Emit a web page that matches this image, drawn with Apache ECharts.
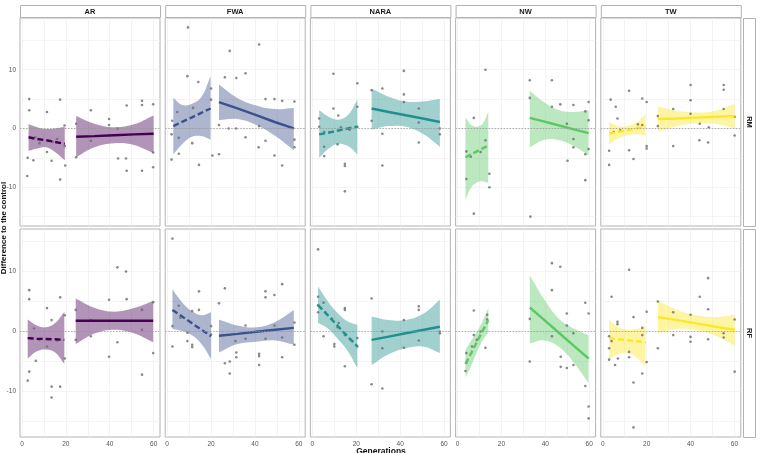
<!DOCTYPE html>
<html>
<head>
<meta charset="utf-8">
<script src="https://cdn.jsdelivr.net/npm/echarts@6/dist/echarts.min.js"></script>
<style>
  html, body { margin: 0; padding: 0; background: #fff; }
  #chart { width: 762px; height: 453px; }
</style>
</head>
<body>
<div id="chart"></div>
<script>
// facets and rows
const facets = ["AR", "FWA", "NARA", "NW", "TW"];
const rowNames = ["RM", "RF"];
const xTicks = [0, 20, 40, 60];
const yTicks = [-10, 0, 10];

// points: [generation, difference]
// bands: [generation, fit, lower, upper]
const AR_RM_pts = [[3.3,5.0],[3.3,3.1],[2.6,-5.0],[2.4,-8.1],[5.2,-5.4],[6,-1.5],[8,-2.5],[11.4,2.8],[11.4,-4.0],[13.5,-5.5],[14,-2.3],[16,-1.8],[17.4,4.9],[17.4,-8.7],[19.4,0.5],[19.5,-3.0],[19.7,-6.3],[24.7,0.8],[24.7,-4.9],[31.4,3.1],[31.4,-2.1],[39.7,1.6],[39.7,0.6],[43.5,0],[43.8,-5.1],[47.4,-5.1],[47.7,3.9],[47.7,-7.2],[54.7,4.7],[54.7,4.0],[54.7,-7.2],[59.8,4.1],[59.8,-4.1],[59.8,-6.6]];
const AR_RM_pre = [[3,-1.5,-3.8,0.7],[7,-1.8,-3.4,0.2],[11,-2.0,-3.2,-0.1],[15,-2.3,-4.0,0.0],[19.5,-2.6,-5.4,0.3]];
const AR_RM_post = [[24.7,-1.4,-4.9,2.1],[33,-1.3,-3.2,0.8],[42,-1.15,-2.5,0.2],[51,-1.0,-2.8,0.7],[60,-0.9,-4.2,2.2]];

const FWA_RM_pts = [[9.5,17.2],[9.2,8.9],[14.2,7.9],[11.8,3.5],[4.6,2.8],[2.3,1.3],[2.0,-1.0],[5.3,-1.6],[2.0,-5.3],[5.3,-4.3],[11.4,-2.5],[14.5,-6.2],[20,6.8],[20,4.9],[20.6,-4.6],[23.6,-4.4],[23.6,0.6],[26.3,8.7],[28.5,13.2],[28,0],[31.4,0],[31.5,8.6],[35.7,9.4],[35.7,-1.5],[41.9,14.3],[41.9,0.4],[41.7,-3.2],[44.8,5.0],[44.8,-2.1],[48.9,5.0],[48.9,-4.6],[52.4,4.7],[52.4,-6.3],[58,4.6],[58,-1.9],[58,-3.2]];
const FWA_RM_pre = [[2.8,0.4,-4.4,5.2],[7,1.15,-2.6,4.0],[11.3,1.9,-1.4,4.2],[15.5,2.65,-1.3,5.3],[19.8,3.4,-1.9,8.9]];
const FWA_RM_post = [[23.6,4.5,1.4,7.5],[32,3.4,1.6,5.2],[40.6,2.25,0.6,3.9],[49,1.1,-1.2,3.3],[57.7,0,-3.7,3.5]];

const NARA_RM_pts = [[9.6,9.3],[9.6,3.4],[3.1,1.7],[3.1,0.3],[5.4,-0.6],[5.4,-3.1],[5.4,-4.7],[8,-0.6],[11.5,-2.7],[11.8,2.2],[13,0.2],[14.8,-6.0],[14.8,-6.4],[14.8,-10.7],[17,-0.2],[20.5,7.7],[20.5,3.7],[20.5,0.3],[27,6.5],[27,1.3],[31.9,6.8],[31.9,-0.9],[31.9,-6.3],[41.7,9.8],[41.7,5.8],[41.7,4.5],[48.5,3.4],[48.5,1.0],[48.5,-2.4],[58.1,0],[58.1,-1.0]];
const NARA_RM_pre = [[3.1,-1.0,-5.0,3.1],[7.5,-0.7,-3.4,2.0],[11.8,-0.35,-2.6,1.5],[16.2,0,-3.0,2.3],[20.5,0.3,-4.4,4.9]];
const NARA_RM_post = [[27,3.4,-0.2,6.8],[34.8,2.8,0.4,5.4],[42.5,2.25,0.3,4.6],[50.3,1.7,-0.9,4.6],[58.1,1.1,-3.1,5.0]];

const NW_RM_pts = [[12.7,10.0],[7.4,1.8],[4.0,-3.9],[4.0,-8.6],[7.4,-14.5],[12.7,-2.0],[14.5,-7.7],[14.5,-10.0],[6,-4.8],[10.5,-4.0],[32.9,8.2],[32.9,5.2],[33.2,-15.0],[43,8.2],[43,3.7],[46.8,4.1],[49.8,0.8],[50.1,-5.5],[52.8,4.0],[52.8,-1.8],[52.8,-3.2],[58.2,2.9],[58.2,-4.4],[58.2,-8.8],[59.7,4.5],[59.7,1.4],[59.7,-3.5]];
const NW_RM_pre = [[3.6,-4.9,-12.2,1.9],[6.2,-4.4,-10.0,0.6],[8.8,-3.9,-9.2,0.3],[11.4,-3.4,-9.0,0.8],[14,-2.9,-9.3,2.8]];
const NW_RM_post = [[32.9,1.8,-3.2,6.4],[39.6,1.15,-1.9,4.4],[46.3,0.5,-2.0,3.1],[53,-0.15,-3.0,2.8],[59.7,-0.8,-4.6,3.1]];

const TW_RM_pts = [[3.6,4.9],[5.9,3.7],[6.7,1.7],[2.9,-3.8],[2.9,-6.2],[12,6.4],[12,-3.7],[14,-5.2],[18,5.1],[20,4.5],[20,-3.0],[20,-3.4],[18,0.6],[16,0.7],[5,-0.6],[8,-0.3],[25.1,2.1],[25.1,0.4],[32.1,3.3],[32.1,-3.0],[40,7.4],[40,4.8],[40,2.5],[44.2,0.8],[44,-2.0],[48,-2.4],[48.3,0.2],[55.1,7.4],[55.1,6.6],[55.1,3.3],[60.1,2.0],[60.1,-1.2]];
const TW_RM_pre = [[2.9,-0.9,-2.7,1.1],[7,-0.6,-1.7,0.4],[11.2,-0.3,-1.2,0.4],[15.3,0,-1.0,1.0],[19.5,0.3,-1.2,2.5]];
const TW_RM_post = [[25.1,1.6,-0.6,3.8],[33.9,1.7,0.4,3.0],[42.6,1.85,0.9,2.7],[51.4,2.0,0.8,3.0],[60.1,2.1,0.0,4.2]];

const AR_RF_pts = [[2.6,-8.3],[3.3,6.8],[3.3,5.3],[3.3,-6.8],[4,-1.2],[5.5,0.4],[6.3,-5.0],[8,-1.5],[11.4,3.8],[11.4,-2.6],[12,-1.4],[13.5,1.8],[13.5,-9.3],[13.5,-11.1],[16,-1.6],[17.4,5.6],[17.4,-9.3],[19.5,2.6],[19.5,-4.6],[24.5,3.5],[24.5,-1.5],[31.4,1.8],[31.4,-0.9],[39.7,5.2],[39.7,-4.3],[43.5,10.6],[43.5,-1.9],[47.4,9.9],[47.7,5.3],[54.7,3.5],[54.7,0.2],[54.7,-7.3],[59.8,4.8],[59.8,-3.7]];
const AR_RF_pre = [[2.6,-1.2,-4.6,1.9],[6.8,-1.3,-3.4,0.9],[11,-1.35,-3.1,0.6],[15.1,-1.4,-3.6,1.3],[19.3,-1.5,-5.5,3.2]];
const AR_RF_post = [[24.5,1.7,-2.2,5.4],[33.3,1.7,-0.4,3.8],[42.2,1.7,0.2,3.2],[51,1.7,-0.4,3.8],[59.8,1.7,-1.9,5.0]];

const FWA_RF_pts = [[2.4,15.4],[2.4,-2.6],[2.4,0.8],[5.3,4.2],[6,2.2],[9.2,-0.3],[9.2,-1.7],[11.4,3.3],[11.4,-2.3],[11.4,-2.7],[14.5,6.6],[14.5,3.5],[20,0.8],[20,-0.6],[23.6,4.6],[26.3,7.1],[26.3,-5.4],[28.5,-5.1],[28.5,-7.1],[31.1,-1.7],[31.5,-3.6],[31.5,-4.4],[35.7,0.9],[35.7,-1.3],[41.9,-3.8],[41.9,-4.2],[41.9,-5.7],[44.8,6.6],[44.8,5.6],[44.8,-1.3],[48.9,6.0],[48.9,0.9],[52.4,7.8],[52.4,-4.4],[52.4,-1.1],[58,1.4],[58,-2.3]];
const FWA_RF_pre = [[2.4,3.5,0.3,6.9],[6.8,2.4,0.0,4.8],[11.2,1.3,-0.7,3.3],[15.6,0.2,-2.2,2.6],[20,-0.9,-4.7,3.1]];
const FWA_RF_post = [[23.6,-0.8,-3.6,1.9],[32.1,-0.5,-2.2,0.9],[40.6,-0.15,-1.8,0.6],[49.2,0.2,-1.6,1.5],[57.7,0.5,-2.3,3.5]];

const NARA_RF_pts = [[2.6,13.6],[2.6,5.7],[2.6,4.3],[2.6,3.1],[5.1,4.7],[5.1,-0.9],[5.9,3.1],[8.9,2.0],[10,-2.2],[10,-2.6],[11.5,0.6],[12,1.3],[14.8,3.8],[14.8,3.5],[14.8,-0.7],[14.8,-5.9],[17.2,-1.4],[20.5,-1.2],[20.5,-2.6],[27,5.4],[27,-8.9],[31.9,-9.6],[31.9,-2.9],[31.9,-0.1],[41.7,1.8],[41.7,-2.8],[48.5,4.1],[48.5,3.5],[48.5,-1.6],[58.1,-0.1],[58.1,-0.4]];
const NARA_RF_pre = [[2.6,4.3,1.3,7.4],[7.1,2.6,0.4,4.9],[11.5,0.85,-1.3,3.0],[16,-0.9,-3.3,1.6],[20.5,-2.6,-6.2,1.0]];
const NARA_RF_post = [[27,-1.5,-5.7,2.4],[34.8,-0.95,-3.9,1.8],[42.5,-0.4,-2.9,1.8],[50.3,0.15,-2.6,2.8],[58.1,0.7,-3.7,5.2]];

const NW_RF_pts = [[7.4,3.4],[7.4,-0.7],[4.0,-3.7],[4.0,-5.3],[3.6,-6.7],[6.6,-2.6],[8.8,-1.5],[10.5,-0.1],[12.7,-2.8],[13.5,2.7],[13.5,1.9],[32.9,2.0],[32.9,-5.1],[43,11.3],[46.8,10.7],[43,6.8],[43,-0.9],[49.8,2.9],[49.8,0.9],[47,-4.3],[47,-6.0],[49.8,-6.2],[52.8,-5.7],[52.8,-0.4],[58.2,4.7],[58.2,-9.2],[59.7,-12.6],[59.7,-14.6],[59.7,2.9]];
const NW_RF_pre = [[3.6,-5.5,-7.8,-3.2],[6.2,-3.7,-5.8,-1.6],[8.8,-1.85,-3.5,-0.2],[11.4,0,-1.6,1.6],[14,1.8,-0.3,3.8]];
const NW_RF_post = [[32.9,3.9,-2.1,9.3],[39.6,1.8,-1.6,5.2],[46.3,-0.35,-2.7,2.0],[53,-2.5,-5.3,0.4],[59.7,-4.6,-8.7,-0.7]];

const TW_RF_pts = [[12,10.2],[4.0,5.7],[6.7,1.5],[6.7,1.1],[2.9,-0.9],[2.9,-2.9],[4,-1.7],[2.9,-4.8],[5.6,-5.7],[6.9,-4.6],[12,-3.5],[12,-4.4],[14,2.3],[14,-8.6],[14,-16.1],[18,0.5],[18,-0.7],[18,-7.1],[20,3.2],[20,-5.2],[25.1,4.9],[25.1,-2.9],[32.1,3.1],[32.1,-0.7],[40,2.7],[40,-1.0],[40,-1.8],[44.2,5.7],[48,8.8],[48,3.6],[48,-1.4],[55.1,-0.4],[55.1,-1.1],[60.1,1.9],[60.1,-6.8]];
const TW_RF_pre = [[2.9,-1.2,-4.7,1.9],[7,-1.4,-3.9,0.6],[11.2,-1.55,-3.7,0.2],[15.3,-1.7,-4.4,0.3],[19.5,-1.9,-5.9,0.8]];
const TW_RF_post = [[25.1,2.3,-0.4,5.1],[33.9,1.8,0.3,3.5],[42.6,1.25,0.1,2.6],[51.4,0.7,-0.8,2.3],[60.1,0.2,-2.5,2.7]];

const colors = ["#440154", "#3B528B", "#21908C", "#5DC863", "#FDE725"];

// panels in row order, then column order
const panels = [
  [AR_RM_pts, AR_RM_pre, AR_RM_post], [FWA_RM_pts, FWA_RM_pre, FWA_RM_post],
  [NARA_RM_pts, NARA_RM_pre, NARA_RM_post], [NW_RM_pts, NW_RM_pre, NW_RM_post],
  [TW_RM_pts, TW_RM_pre, TW_RM_post],
  [AR_RF_pts, AR_RF_pre, AR_RF_post], [FWA_RF_pts, FWA_RF_pre, FWA_RF_post],
  [NARA_RF_pts, NARA_RF_pre, NARA_RF_post], [NW_RF_pts, NW_RF_pre, NW_RF_post],
  [TW_RF_pts, TW_RF_pre, TW_RF_post]
];

// layout
const colLeft = [20, 165.2, 310.4, 455.6, 600.8];
const panelW = 140;
const rowTop = [18, 229];
const panelH = 208;
const yRange = [[-16.6, 18.8], [-17.7, 17.0]];

const grids = [], xAxes = [], yAxes = [], series = [], graphics = [];

function bandSeries(rows, gi, color) {
  return {
    type: "custom",
    xAxisIndex: gi, yAxisIndex: gi,
    silent: true, clip: true, z: 2,
    data: rows.map(r => [r[0], r[2], r[3]]),
    encode: { x: 0, y: [1, 2] },
    renderItem: function (params, api) {
      if (params.dataIndex !== 0) return;
      const up = [], dn = [];
      rows.forEach(r => {
        up.push(api.coord([r[0], r[3]]));
        dn.unshift(api.coord([r[0], r[2]]));
      });
      // doubled end points keep the ends square while the edges are smoothed
      const pts = [up[0]].concat(up, [up[up.length - 1], dn[0]], dn, [dn[dn.length - 1]]);
      return {
        type: "polygon",
        shape: { points: pts, smooth: 0.4 },
        style: { fill: color, opacity: 0.42 }
      };
    }
  };
}

function fitSeries(rows, gi, color, dashed) {
  return {
    type: "line",
    xAxisIndex: gi, yAxisIndex: gi,
    silent: true, z: 4,
    symbol: "none",
    data: rows.map(r => [r[0], r[1]]),
    lineStyle: { color: color, width: 2.4, type: dashed ? [6, 3] : "solid" }
  };
}

for (let r = 0; r < 2; r++) {
  for (let c = 0; c < 5; c++) {
    const gi = r * 5 + c;
    const [pts, pre, post] = panels[gi];
    grids.push({
      left: colLeft[c], top: rowTop[r], width: panelW, height: panelH,
      show: true, borderColor: "#b3b3b3", borderWidth: 1
    });
    xAxes.push({
      type: "value", gridIndex: gi, min: -0.9, max: 62.9,
      axisLine: { show: false },
      axisTick: { show: false, customValues: [0, 10, 20, 30, 40, 50, 60] },
      splitLine: { show: true, lineStyle: { color: "#ececec", width: 0.6 } },
      axisLabel: { show: r === 1, customValues: xTicks, fontSize: 6.5, color: "#555", margin: 4 }
    });
    yAxes.push({
      type: "value", gridIndex: gi, min: yRange[r][0], max: yRange[r][1],
      axisLine: { show: false },
      axisTick: { show: false, customValues: [-15, -10, -5, 0, 5, 10, 15] },
      splitLine: { show: true, lineStyle: { color: "#ececec", width: 0.6 } },
      axisLabel: { show: c === 0, customValues: yTicks, fontSize: 6.5, color: "#555", margin: 4 }
    });

    series.push(bandSeries(pre, gi, colors[c]));
    series.push(bandSeries(post, gi, colors[c]));
    series.push({
      type: "scatter",
      xAxisIndex: gi, yAxisIndex: gi,
      silent: true, z: 3,
      symbolSize: 2.6,
      itemStyle: { color: "#6b6b6b", opacity: 0.8 },
      data: pts,
      markLine: {
        silent: true, symbol: "none", label: { show: false },
        lineStyle: { color: "#9a9a9a", type: [1.5, 1.5], width: 0.8 },
        data: [{ yAxis: 0 }]
      }
    });
    series.push(fitSeries(pre, gi, colors[c], true));
    series.push(fitSeries(post, gi, colors[c], false));
  }
}

// facet strips on top
facets.forEach((name, c) => {
  graphics.push({
    type: "rect", left: colLeft[c], top: 5,
    shape: { width: panelW, height: 12 },
    style: { fill: "#fff", stroke: "#b3b3b3", lineWidth: 1 }
  });
  graphics.push({
    type: "text", x: colLeft[c] + panelW / 2, y: 11.5,
    style: { text: name, align: "center", verticalAlign: "middle",
      font: "bold 7.5px 'Liberation Sans', Arial, sans-serif", fill: "#1a1a1a" }
  });
});

// row strips on the right
rowNames.forEach((name, r) => {
  graphics.push({
    type: "rect", left: 743, top: rowTop[r],
    shape: { width: 12, height: panelH },
    style: { fill: "#fff", stroke: "#b3b3b3", lineWidth: 1 }
  });
  graphics.push({
    type: "text", x: 749, y: rowTop[r] + panelH / 2, rotation: -Math.PI / 2,
    style: { text: name, align: "center", verticalAlign: "middle",
      font: "bold 7.5px 'Liberation Sans', Arial, sans-serif", fill: "#1a1a1a" }
  });
});

// axis titles
graphics.push({
  type: "text", x: 4, y: 228, rotation: Math.PI / 2,
  style: { text: "Difference to the control", align: "center", verticalAlign: "middle",
    font: "bold 8px 'Liberation Sans', Arial, sans-serif", fill: "#111" }
});
graphics.push({
  type: "text", x: 381, y: 452,
  style: { text: "Generations", align: "center", verticalAlign: "middle",
    font: "bold 8.5px 'Liberation Sans', Arial, sans-serif", fill: "#111" }
});

const chart = echarts.init(document.getElementById("chart"), null, { renderer: "canvas" });
chart.setOption({
  animation: false,
  backgroundColor: "#fff",
  grid: grids,
  xAxis: xAxes,
  yAxis: yAxes,
  series: series,
  graphic: graphics
});
</script>
</body>
</html>
